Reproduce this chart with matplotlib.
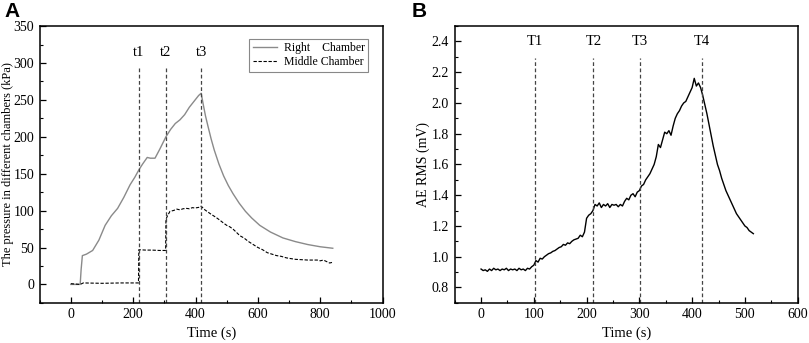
import matplotlib
matplotlib.use('Agg')
import matplotlib.pyplot as plt
from matplotlib.ticker import MultipleLocator, AutoMinorLocator, FormatStrFormatter

# ---- panel A data (kPa) ----
right_t = [0, 30, 33, 37, 50, 70, 90, 110, 130, 150, 170, 190, 205, 218, 230, 245, 255, 270,
           285, 305, 320, 335, 350, 365, 380, 395, 410, 418, 425, 432, 440, 450, 460, 475,
           490, 505, 520, 540, 560, 580, 606, 640, 680, 720, 760, 800, 840]
right_p = [0, 0, 20, 39, 41, 46, 60, 80, 93, 103, 118, 135, 145, 155, 163, 172, 171, 171,
           183, 200, 210, 218, 223, 230, 240, 248, 256, 259, 243, 228, 214, 197, 182, 163,
           147, 134, 123, 110, 99, 90, 80, 71, 63, 58, 54, 51, 49]

middle_t = [0, 30, 40, 100, 160, 217, 218, 240, 260, 285, 304, 305, 310, 318, 328, 335, 340,
            350, 360, 371, 380, 390, 398, 405, 412, 418, 425, 430, 440, 450, 465, 478, 490,
            500, 510, 520, 530, 542, 555, 570, 585, 600, 615, 630, 645, 660, 675, 691, 705,
            720, 740, 760, 775, 790, 800, 810, 820, 830, 840]
middle_p = [1, 0, 2, 1.5, 2, 2, 47, 46.5, 46.5, 46, 46, 88, 93, 99, 100, 101, 102,
            101, 102.5, 103, 102.5, 104, 103.5, 104, 104.5, 106, 103, 101, 98, 95, 91, 87, 83,
            80, 78, 75, 71, 66, 63, 58, 54, 50, 47, 43, 41, 39, 38, 36, 35,
            34, 33.5, 33, 33, 33, 32, 33, 31, 29, 30]

lines_a = [218, 305, 418]
labels_a = ['t1', 't2', 't3']

# ---- panel B data (mV) ----
ae_t = list(range(0, 520, 4))
ae_rms = [0.92, 0.91, 0.915, 0.905, 0.92, 0.91, 0.925, 0.915, 0.92, 0.91, 0.92, 0.915, 0.925,
          0.91, 0.92, 0.915, 0.92, 0.91, 0.925, 0.915, 0.92, 0.91, 0.925, 0.92, 0.935, 0.945,
          0.975, 0.965, 0.99, 0.985, 1.0, 1.01, 1.02, 1.025, 1.035, 1.04, 1.05, 1.06, 1.065,
          1.08, 1.075, 1.09, 1.085, 1.10, 1.11, 1.115, 1.12, 1.14, 1.13, 1.16, 1.25, 1.27,
          1.28, 1.30, 1.34, 1.33, 1.35, 1.32, 1.34, 1.33, 1.345, 1.32, 1.34, 1.335, 1.34,
          1.325, 1.34, 1.33, 1.36, 1.38, 1.37, 1.40, 1.41, 1.39, 1.42, 1.43, 1.46, 1.47,
          1.50, 1.52, 1.54, 1.57, 1.60, 1.65, 1.73, 1.71, 1.76, 1.81, 1.80, 1.82, 1.79,
          1.85, 1.90, 1.93, 1.95, 1.98, 2.00, 2.01, 2.04, 2.07, 2.10, 2.16, 2.11, 2.13,
          2.10, 2.05, 1.99, 1.93, 1.86, 1.79, 1.72, 1.66, 1.60, 1.56, 1.51, 1.47, 1.43,
          1.40, 1.37, 1.34, 1.31, 1.28, 1.26, 1.24, 1.22, 1.20, 1.19, 1.17, 1.16, 1.15]

lines_b = [102, 213, 301, 418]
labels_b = ['T1', 'T2', 'T3', 'T4']

plt.rcParams['font.family'] = ['Liberation Serif', 'DejaVu Serif']
plt.rcParams['font.size'] = 10


def style_axes(ax):
    for s in ax.spines.values():
        s.set_linewidth(1.1)
    ax.tick_params(which='both', direction='in', top=False, right=False, labelsize=10)
    ax.tick_params(which='major', length=4, width=0.9, pad=4)
    ax.tick_params(which='minor', length=2.2, width=0.8)
    ax.xaxis.set_minor_locator(AutoMinorLocator(2))
    ax.yaxis.set_minor_locator(AutoMinorLocator(2))


fig = plt.figure(figsize=(8.09, 3.43), dpi=100)

# panel A
ax1 = fig.add_axes([0.049, 0.117, 0.424, 0.807])
ax1.plot(right_t, right_p, color='#8a8a8a', lw=1.0, label='Right    Chamber')
ax1.plot(middle_t, middle_p, color='black', lw=0.8, linestyle=(0, (3, 1.5)), label='Middle Chamber')
for x, lab in zip(lines_a, labels_a):
    ax1.plot([x, x], [-25, 296], color='#444444', lw=0.9, linestyle=(0, (3, 2)))
    ax1.text(x, 305, lab, ha='center', va='bottom', fontsize=10.5)
ax1.set_xlim(-100, 1000)
ax1.set_ylim(-25, 350)
ax1.xaxis.set_major_locator(MultipleLocator(200))
ax1.yaxis.set_major_locator(MultipleLocator(50))
style_axes(ax1)
ax1.set_xlabel('Time (s)', fontsize=10.5, labelpad=4)
ax1.set_ylabel('The pressure in different chambers (kPa)', fontsize=9)
ax1.yaxis.set_label_coords(-0.075, 0.5)
leg = ax1.legend(loc='upper right', bbox_to_anchor=(0.958, 0.955), fontsize=8.5,
                 fancybox=False, edgecolor='#888888', framealpha=1, handlelength=2.0,
                 handletextpad=0.6, borderpad=0.3, labelspacing=0.2, borderaxespad=0)
leg.get_frame().set_linewidth(0.8)

# panel B
ax2 = fig.add_axes([0.562, 0.117, 0.424, 0.807])
ax2.plot(ae_t, ae_rms, color='black', lw=1.0)
for x, lab in zip(lines_b, labels_b):
    ax2.plot([x, x], [0.7, 2.29], color='#444444', lw=0.9, linestyle=(0, (3, 2)))
    ax2.text(x, 2.355, lab, ha='center', va='bottom', fontsize=10.5)
ax2.set_xlim(-50, 600)
ax2.set_ylim(0.7, 2.5)
ax2.xaxis.set_major_locator(MultipleLocator(100))
ax2.set_yticks([0.8, 1.0, 1.2, 1.4, 1.6, 1.8, 2.0, 2.2, 2.4])
ax2.yaxis.set_major_formatter(FormatStrFormatter('%.1f'))
style_axes(ax2)
ax2.set_xlabel('Time (s)', fontsize=10.5, labelpad=4)
ax2.set_ylabel('AE RMS (mV)', fontsize=10)
ax2.yaxis.set_label_coords(-0.073, 0.5)

fig.text(0.006, 0.995, 'A', fontsize=15, fontweight='bold', family='Liberation Sans', va='top')
fig.text(0.509, 0.995, 'B', fontsize=15, fontweight='bold', family='Liberation Sans', va='top')

fig.savefig('out.png', dpi=100)
